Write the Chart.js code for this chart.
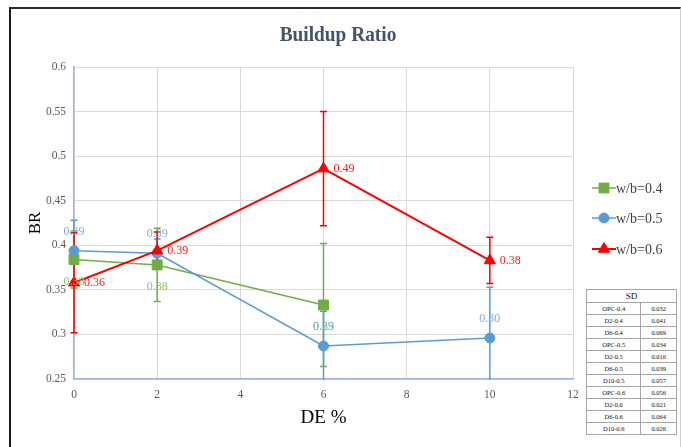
<!DOCTYPE html>
<html>
<head>
<meta charset="utf-8">
<script src="https://cdn.jsdelivr.net/npm/chart.js@4/dist/chart.umd.min.js"></script>
<style>
  html, body { margin: 0; padding: 0; background: #fff; }
  #wrap { position: relative; width: 681px; height: 447px; overflow: hidden; }
  #frame { position: absolute; left: 9px; top: 7px; width: 669px; height: 460px;
           border-top: 2px solid #2b2b2b; border-left: 2px solid #1a1a1a; border-right: 1px solid #cfcfcf; }
  canvas { position: absolute; left: 0; top: 0; }
  #sd { position: absolute; left: 586px; top: 289px; width: 91px; border-collapse: collapse;
        font-family: "Liberation Serif", "Times New Roman", serif; font-size: 6.5px; color: #111; background: #fff; }
  #sd td { border: 1px solid #a6a6a6; text-align: center; height: 11px; padding: 0; line-height: 10px; }
  #sd td.h { font-size: 9px; height: 12px; }
</style>
</head>
<body>
<div id="wrap">
  <div id="frame"></div>
  <canvas id="c" width="681" height="447"></canvas>
  <table id="sd"></table>
</div>
<script>
// ---- data ----
const seriesNames = ['w/b=0.4', 'w/b=0.5', 'w/b=0.6'];
const wbLabels = ['0.4', '0.5', '0.6'];
const x04 = [0, 2, 6];
const y04 = [0.384, 0.378, 0.333];
const sd04 = [0.032, 0.041, 0.069];
const x05 = [0, 2, 6, 10];
const y05 = [0.394, 0.391, 0.287, 0.296];
const sd05 = [0.034, 0.016, 0.039, 0.057];
const x06 = [0, 2, 6, 10];
const y06 = [0.358, 0.394, 0.486, 0.383];
const sd06 = [0.056, 0.021, 0.064, 0.026];
const xTicks = [0, 2, 4, 6, 8, 10, 12];
const yTickLabels = ['0.25', '0.3', '0.35', '0.4', '0.45', '0.5', '0.55', '0.6'];

const colors = ['#70ad47', '#5b9bd5', '#ff0000'];
const labelColors = ['#8fbf6a', '#7aaee0', '#ff1a1a'];
const xs = [x04, x05, x06];
const ys = [y04, y05, y06];
const sds = [sd04, sd05, sd06];

// ---- SD table ----
(function () {
  const t = document.getElementById('sd');
  let html = '<tr><td class="h" colspan="2">SD</td></tr>';
  for (let s = 0; s < 3; s++) {
    for (let i = 0; i < xs[s].length; i++) {
      const mix = xs[s][i] === 0 ? 'OPC' : 'D' + xs[s][i];
      html += '<tr><td>' + mix + '-' + wbLabels[s] + '</td><td>' + sds[s][i].toFixed(3) + '</td></tr>';
    }
  }
  t.innerHTML = html;
})();

const SERIF = '"Liberation Serif", "Times New Roman", serif';

const errorBars = {
  id: 'errorBars',
  beforeDatasetsDraw(chart) {
    const { ctx, chartArea: a, scales: { x, y } } = chart;
    ctx.save();
    ctx.beginPath();
    ctx.rect(0, a.top, chart.width, a.bottom - a.top + 1);
    ctx.clip();
    for (let s = 0; s < 3; s++) {
      ctx.strokeStyle = colors[s];
      ctx.lineWidth = 1.5;
      for (let i = 0; i < xs[s].length; i++) {
        const px = x.getPixelForValue(xs[s][i]);
        const top = y.getPixelForValue(ys[s][i] + sds[s][i]);
        const bot = y.getPixelForValue(ys[s][i] - sds[s][i]);
        ctx.beginPath();
        ctx.moveTo(px, top); ctx.lineTo(px, bot);
        ctx.moveTo(px - 3.5, top); ctx.lineTo(px + 3.5, top);
        ctx.moveTo(px - 3.5, bot); ctx.lineTo(px + 3.5, bot);
        ctx.stroke();
      }
    }
    ctx.restore();
  }
};

const decorations = {
  id: 'decorations',
  afterDatasetsDraw(chart) {
    const { ctx, scales: { x, y } } = chart;
    ctx.save();
    ctx.font = '12px ' + SERIF;
    for (let s = 0; s < 3; s++) {
      ctx.fillStyle = labelColors[s];
      for (let i = 0; i < xs[s].length; i++) {
        const px = x.getPixelForValue(xs[s][i]);
        const py = y.getPixelForValue(ys[s][i]);
        const txt = ys[s][i].toFixed(2);
        ctx.textBaseline = 'middle';
        if (s === 0) { ctx.textAlign = 'center'; ctx.fillText(txt, px, py + 22); }
        else if (s === 1) { ctx.textAlign = 'center'; ctx.fillText(txt, px, py - 19); }
        else { ctx.textAlign = 'left'; ctx.fillText(txt, px + 10, py); }
      }
    }
    ctx.restore();
  },
  afterDraw(chart) {
    const { ctx } = chart;
    ctx.save();
    // title
    ctx.fillStyle = '#44546a';
    ctx.font = 'bold 22px ' + SERIF;
    ctx.textAlign = 'center';
    ctx.textBaseline = 'alphabetic';
    ctx.translate(338, 41);
    ctx.scale(0.88, 1);
    ctx.fillText('Buildup Ratio', 0, 0);
    ctx.restore();
    // legend
    ctx.save();
    const ly = [188, 218, 249];
    chart.data.datasets.forEach((ds, s) => {
      ctx.strokeStyle = colors[s];
      ctx.lineWidth = s === 2 ? 2 : 1.5;
      ctx.beginPath();
      ctx.moveTo(592, ly[s]); ctx.lineTo(616, ly[s]);
      ctx.stroke();
      ctx.fillStyle = colors[s];
      ctx.strokeStyle = colors[s];
      ctx.lineWidth = 1;
      Chart.helpers.drawPoint(ctx, {
        pointStyle: ds.pointStyle, radius: ds.pointRadius, borderWidth: 1, rotation: 0
      }, 604, ly[s]);
      ctx.fillStyle = '#404040';
      ctx.font = '14px ' + SERIF;
      ctx.textAlign = 'left';
      ctx.textBaseline = 'middle';
      ctx.fillText(seriesNames[s], 616, ly[s] + 1);
    });
    ctx.restore();
  }
};

const datasets = [0, 1, 2].map(s => ({
  label: seriesNames[s],
  data: xs[s].map((v, i) => ({ x: v, y: ys[s][i] })),
  borderColor: colors[s],
  backgroundColor: colors[s],
  pointBackgroundColor: colors[s],
  pointBorderColor: colors[s],
  borderWidth: s === 2 ? 2 : 1.5,
  pointStyle: ['rect', 'circle', 'triangle'][s],
  pointRadius: [7, 5, 6.5][s],
  pointBorderWidth: 1,
  tension: 0,
  clip: false,
  order: 2 - s
}));

new Chart(document.getElementById('c'), {
  type: 'line',
  data: { datasets },
  options: {
    responsive: false,
    animation: false,
    devicePixelRatio: 1,
    layout: { padding: { left: 25, right: 108, top: 67, bottom: 18 } },
    plugins: { legend: { display: false }, tooltip: { enabled: false }, title: { display: false } },
    scales: {
      x: {
        type: 'linear', min: 0, max: 12,
        afterBuildTicks: sc => { sc.ticks = xTicks.map(v => ({ value: v })); },
        afterFit: sc => { sc.height = 50; },
        grid: { color: '#d9d9d9', drawTicks: false },
        border: { color: '#9fb6da', width: 1.5 },
        ticks: { padding: 9, color: '#595959', font: { family: SERIF, size: 11.5 }, maxRotation: 0 },
        title: { display: true, text: 'DE %', color: '#000', font: { family: SERIF, size: 19 }, padding: 0 }
      },
      y: {
        type: 'linear', min: 0.25, max: 0.6,
        afterBuildTicks: sc => { sc.ticks = yTickLabels.map(t => ({ value: parseFloat(t) })); },
        afterFit: sc => { sc.width = 49; },
        grid: { color: '#d9d9d9', drawTicks: false },
        border: { color: '#9fb6da', width: 1.5 },
        ticks: {
          padding: 8, color: '#595959', font: { family: SERIF, size: 11.5 },
          callback: (v) => yTickLabels.find(t => Math.abs(parseFloat(t) - v) < 1e-9) || ''
        },
        title: { display: true, text: 'BR', color: '#000', font: { family: SERIF, size: 17 }, padding: 0 }
      }
    }
  },
  plugins: [errorBars, decorations]
});
</script>
</body>
</html>
